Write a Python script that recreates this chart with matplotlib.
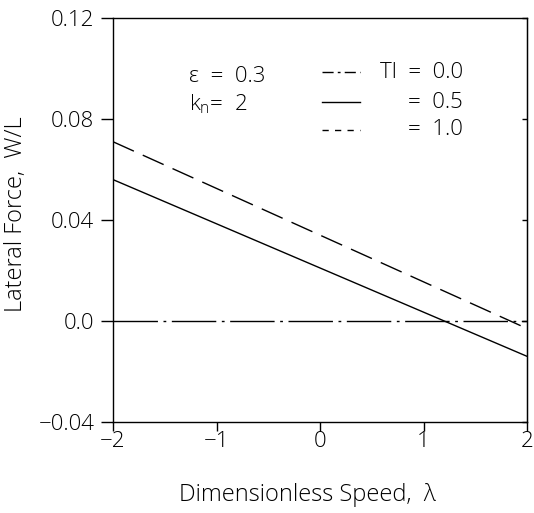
import numpy as np
import matplotlib
matplotlib.use("Agg")
import matplotlib.pyplot as plt

plt.rcParams['font.family'] = ['Open Sans', 'DejaVu Sans']
plt.rcParams['font.weight'] = 'light'
plt.rcParams['axes.labelweight'] = 'light'
plt.rcParams['mathtext.fontset'] = 'custom'
plt.rcParams['mathtext.rm'] = 'Open Sans:light'
plt.rcParams['mathtext.it'] = 'Open Sans:light'

# data
speed = [-2.0, 2.0]
force_eta00 = [0.0, 0.0]
force_eta05 = [0.056, -0.014]
force_eta10 = [0.071, -0.003]
x_ticks = [-2, -1, 0, 1, 2]
x_tick_labels = ["\u22122", "\u22121", "0", "1", "2"]
y_ticks = [-0.04, 0.0, 0.04, 0.08, 0.12]
y_tick_labels = ["\u22120.04", "0.0", "0.04", "0.08", "0.12"]
legend_labels = ["Tl  =  0.0", "=  0.5", "=  1.0"]

fig = plt.figure(figsize=(5.34, 5.13), dpi=100)
ax = fig.add_axes([0.2116, 0.1774, 0.7754, 0.7875])

lw = 1.0
ax.plot(speed, force_eta00, color='black', lw=lw, dashes=(32, 4, 2, 4))
ax.plot(speed, force_eta05, color='black', lw=lw)
ax.plot(speed, force_eta10, color='black', lw=lw, dashes=(16.5, 7))

ax.set_xlim(-2, 2)
ax.set_ylim(-0.04, 0.12)
ax.set_xticks(x_ticks)
ax.set_xticklabels(x_tick_labels)
ax.set_yticks(y_ticks)
ax.set_yticklabels(y_tick_labels)
ax.tick_params(axis='y', direction='out', length=9, width=1, labelsize=16, pad=4.5)
ax.tick_params(axis='x', direction='out', length=6.5, width=1, labelsize=16, pad=0)
for s in ax.spines.values():
    s.set_linewidth(1.0)

# small inward ticks on the right axis
ax_r = ax.secondary_yaxis('right')
ax_r.set_yticks(y_ticks)
ax_r.tick_params(direction='in', length=3.5, width=1, labelright=False)

ax.set_xlabel("Dimensionless Speed,  \u03bb", fontsize=17)
ax.set_ylabel("Lateral Force,  W/L", fontsize=17)
ax.xaxis.set_label_coords(0.47, -0.152)
ax.yaxis.set_label_coords(-0.205, 0.515)

# annotation / legend
ax.text(0.184, 0.856, "\u03b5  =  0.3", transform=ax.transAxes, fontsize=16, va='center')
ax.text(0.184, 0.787, "k$_n$=  2", transform=ax.transAxes, fontsize=16, va='center')

styles = [dict(dashes=(8, 3, 2, 3)), dict(), dict(dashes=(4.5, 4.5))]
rows_y = [0.866, 0.792, 0.723]
text_x = [0.645, 0.712, 0.712]
for yy, st, lab, tx in zip(rows_y, styles, legend_labels, text_x):
    ax.plot([0.505, 0.597], [yy, yy], transform=ax.transAxes, color='black', lw=lw, **st)
    ax.text(tx, yy, lab, transform=ax.transAxes, fontsize=16, va='center')

fig.savefig("out.png", dpi=100)
